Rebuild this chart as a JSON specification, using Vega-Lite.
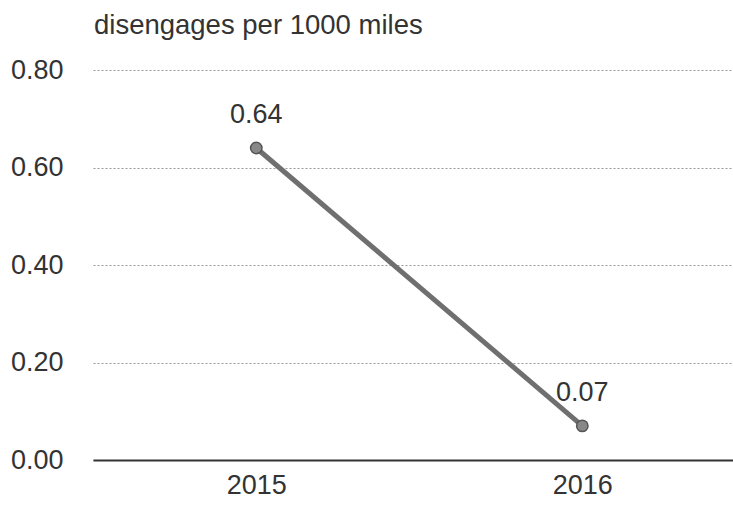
{
  "$schema": "https://vega.github.io/schema/vega-lite/v6.json",
  "autosize": "none",
  "width": 640,
  "height": 390,
  "padding": {"left": 93, "top": 70, "right": 0, "bottom": 46},
  "background": "white",
  "config": {
    "font": "Liberation Sans",
    "view": {"stroke": null}
  },
  "title": {
    "text": "disengages per 1000 miles",
    "anchor": "start",
    "frame": "group",
    "fontSize": 27.5,
    "fontWeight": "normal",
    "color": "#333333",
    "offset": 17,
    "dx": 1
  },
  "data": {
    "values": [
      {"year": "2015", "value": 0.64},
      {"year": "2016", "value": 0.07}
    ]
  },
  "encoding": {
    "x": {
      "field": "year",
      "type": "ordinal",
      "scale": {"type": "point", "padding": 0.4815, "align": 0.52},
      "axis": {
        "title": null,
        "labelAngle": 0,
        "labelFontSize": 27,
        "labelColor": "#333333",
        "labelPadding": 12,
        "ticks": false,
        "domainColor": "#333333",
        "domainWidth": 2,
        "grid": false
      }
    },
    "y": {
      "field": "value",
      "type": "quantitative",
      "scale": {"domain": [0, 0.8]},
      "axis": {
        "title": null,
        "values": [0, 0.2, 0.4, 0.6, 0.8],
        "format": ".2f",
        "labelFontSize": 27,
        "labelColor": "#333333",
        "labelPadding": 30,
        "ticks": false,
        "domain": false,
        "gridColor": "#999999",
        "gridDash": [2, 2],
        "gridWidth": 1
      }
    }
  },
  "layer": [
    {
      "mark": {"type": "line", "color": "#6f6f6f", "strokeWidth": 5}
    },
    {
      "mark": {"type": "point", "filled": true, "size": 130, "color": "#888888", "stroke": "#555555", "strokeWidth": 1.5, "opacity": 1}
    },
    {
      "mark": {"type": "text", "fontSize": 27, "color": "#333333", "baseline": "alphabetic", "dy": -25},
      "encoding": {
        "text": {"field": "value", "type": "quantitative", "format": ".2f"}
      }
    }
  ]
}
